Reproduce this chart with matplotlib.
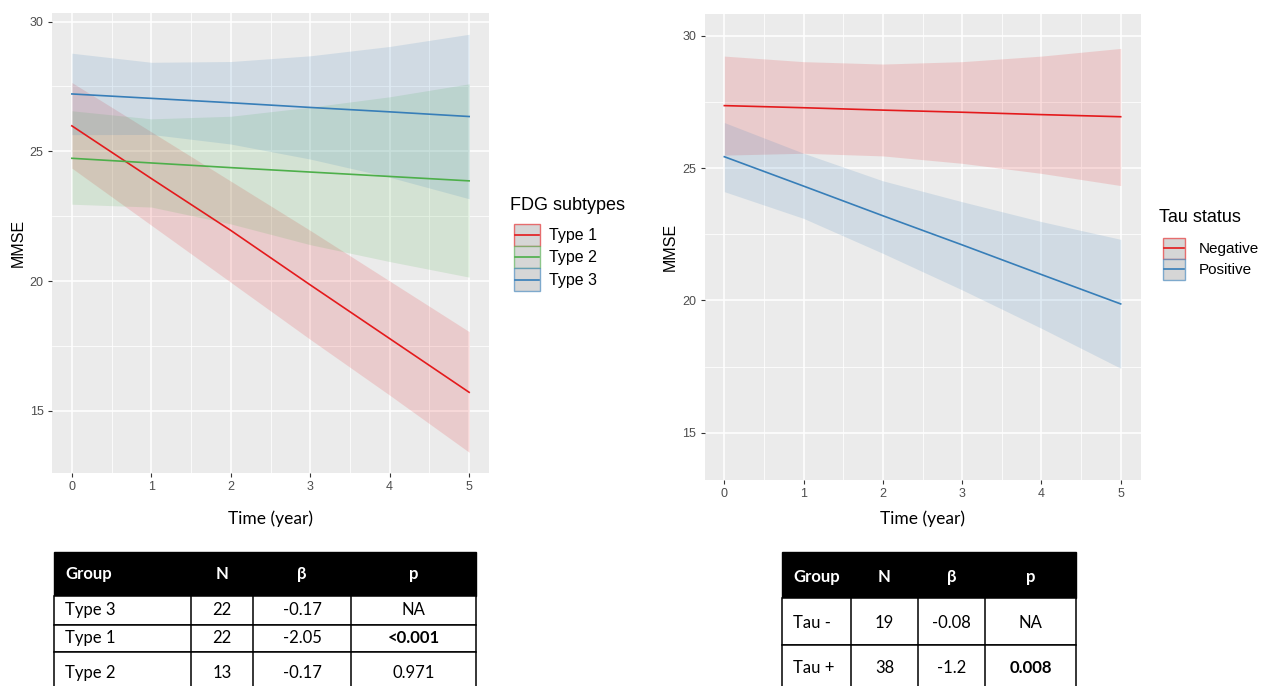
import matplotlib
matplotlib.use('Agg')
import matplotlib.pyplot as plt
from matplotlib.patches import Patch, Rectangle
from matplotlib.lines import Line2D
from matplotlib.colors import to_rgba

# ---- data ----
years = [0, 1, 2, 3, 4, 5]

# FDG subtypes (left panel)
type1_fit = [25.98, 23.95, 21.95, 19.85, 17.78, 15.71]
type1_lo = [24.35, 22.15, 19.95, 17.75, 15.60, 13.40]
type1_hi = [27.65, 25.75, 23.85, 21.95, 20.00, 18.05]
type2_fit = [24.73, 24.55, 24.37, 24.20, 24.03, 23.86]
type2_lo = [22.96, 22.85, 22.20, 21.40, 20.75, 20.15]
type2_hi = [26.56, 26.25, 26.35, 26.70, 27.10, 27.60]
type3_fit = [27.21, 27.04, 26.87, 26.69, 26.52, 26.34]
type3_lo = [25.64, 25.65, 25.28, 24.70, 24.00, 23.17]
type3_hi = [28.78, 28.43, 28.46, 28.68, 29.04, 29.51]

# Tau status (right panel)
neg_fit = [27.36, 27.28, 27.19, 27.11, 27.02, 26.94]
neg_lo = [25.49, 25.56, 25.46, 25.18, 24.80, 24.34]
neg_hi = [29.23, 29.02, 28.93, 29.02, 29.23, 29.52]
pos_fit = [25.43, 24.32, 23.20, 22.10, 20.98, 19.87]
pos_lo = [24.11, 23.10, 21.78, 20.40, 18.95, 17.44]
pos_hi = [26.72, 25.56, 24.52, 23.73, 22.98, 22.31]

subtype_names = ['Type 1', 'Type 2', 'Type 3']
tau_names = ['Negative', 'Positive']

# tables
fdg_header = ['Group', 'N', 'β', 'p']
fdg_group = ['Type 3', 'Type 1', 'Type 2']
fdg_n = ['22', '22', '13']
fdg_beta = ['-0.17', '-2.05', '-0.17']
fdg_p = ['NA', '<0.001', '0.971']
fdg_bold = [False, True, False]

tau_header = ['Group', 'N', 'β', 'p']
tau_group = ['Tau -', 'Tau +']
tau_n = ['19', '38']
tau_beta = ['-0.08', '-1.2']
tau_p = ['NA', '0.008']
tau_bold = [False, True]

RED, GREEN, BLUE = '#E41A1C', '#4DAF4A', '#377EB8'
W, H = 1266, 686

plt.rcParams['font.family'] = ['Liberation Sans', 'DejaVu Sans']

fig = plt.figure(figsize=(W / 100, H / 100), dpi=100)


def px_rect(l, t, r, b):
    return [l / W, 1 - b / H, (r - l) / W, (b - t) / H]


def gg_style(ax, ylim, xpad):
    ax.set_facecolor('#EBEBEB')
    for s in ax.spines.values():
        s.set_visible(False)
    ax.set_xlim(-0.25, 5.25)
    ax.set_ylim(*ylim)
    ax.set_xticks(years)
    ax.set_yticks([15, 20, 25, 30])
    ax.set_xticks([0.5, 1.5, 2.5, 3.5, 4.5], minor=True)
    ax.set_yticks([17.5, 22.5, 27.5], minor=True)
    ax.grid(which='major', color='white', lw=1.1)
    ax.grid(which='minor', color='white', lw=0.55)
    ax.set_axisbelow(True)
    ax.tick_params(which='major', length=3, width=0.8, color='#333333',
                   labelcolor='#4D4D4D', labelsize=9, pad=3)
    ax.tick_params(which='minor', length=0)
    ax.set_xlabel('Time (year)', family='Lato', fontsize=12.5, labelpad=xpad)
    ax.set_ylabel('MMSE', fontsize=11.5, labelpad=3)


class KeyHandler:
    """ggplot-like key: grey box with faded coloured border and a line across the middle"""
    def legend_artist(self, legend, orig_handle, fontsize, handlebox):
        x0, y0 = -handlebox.xdescent, -handlebox.ydescent
        w, h = handlebox.width, handlebox.height
        c = orig_handle.get_edgecolor()
        box = Rectangle((x0, y0), w, h, facecolor='#D6D6D6',
                        edgecolor=to_rgba(c, 0.6), lw=1.0,
                        transform=handlebox.get_transform())
        line = Line2D([x0 + 1, x0 + w - 1], [y0 + h / 2] * 2, color=c[:3], lw=1.2,
                      transform=handlebox.get_transform())
        handlebox.add_artist(box)
        handlebox.add_artist(line)
        return box


# ---- left panel ----
ax1 = fig.add_axes(px_rect(52, 13, 489, 473))
gg_style(ax1, (12.6, 30.33), 12)
for lo, hi, c in [(type1_lo, type1_hi, RED),
                  (type2_lo, type2_hi, GREEN),
                  (type3_lo, type3_hi, BLUE)]:
    ax1.fill_between(years, lo, hi, color=c, alpha=0.15, lw=0)
for fit, c in [(type1_fit, RED), (type2_fit, GREEN), (type3_fit, BLUE)]:
    ax1.plot(years, fit, color=c, lw=1.2)

fig.text(510.5 / W, 1 - 205 / H, 'FDG subtypes', fontsize=13, ha='left', va='center')
fig.legend([Patch(edgecolor=c) for c in [RED, GREEN, BLUE]], subtype_names,
           handler_map={Patch: KeyHandler()},
           loc='upper left', bbox_to_anchor=(514 / W, 1 - 223.5 / H),
           frameon=False, fontsize=11.5, handlelength=1.63,
           handleheight=1.79, labelspacing=0.0, handletextpad=0.56,
           borderpad=0, borderaxespad=0)

# ---- right panel ----
ax2 = fig.add_axes(px_rect(704.5, 14, 1140.5, 480))
gg_style(ax2, (13.22, 30.82), 7)
for lo, hi, c in [(neg_lo, neg_hi, RED), (pos_lo, pos_hi, BLUE)]:
    ax2.fill_between(years, lo, hi, color=c, alpha=0.15, lw=0)
ax2.plot(years, neg_fit, color=RED, lw=1.2)
ax2.plot(years, pos_fit, color=BLUE, lw=1.2)

fig.text(1159 / W, 1 - 217 / H, 'Tau status', fontsize=13, ha='left', va='center')
fig.legend([Patch(edgecolor=c) for c in [RED, BLUE]], tau_names,
           handler_map={Patch: KeyHandler()},
           loc='upper left', bbox_to_anchor=(1163 / W, 1 - 237.5 / H),
           frameon=False, fontsize=11, handlelength=1.44,
           handleheight=1.74, labelspacing=0.0, handletextpad=0.92,
           borderpad=0, borderaxespad=0)

# ---- tables (drawn in pixel coordinates on an overlay axes) ----
tab = fig.add_axes([0, 0, 1, 1])
tab.set_xlim(0, W)
tab.set_ylim(H, 0)
tab.axis('off')


def draw_table(cols, rows, header, columns, bold, text_y, head_y, group_x):
    # cols: x edges, rows: y edges (first pair = header)
    tab.add_patch(Rectangle((cols[0], rows[0]), cols[-1] - cols[0], rows[1] - rows[0],
                            facecolor='black', edgecolor='black', lw=1))
    for i in range(1, len(rows) - 1):
        tab.add_patch(Rectangle((cols[0], rows[i]), cols[-1] - cols[0], rows[i + 1] - rows[i],
                                facecolor='white', edgecolor='black', lw=1.1))
    for x in cols[1:-1]:
        tab.plot([x, x], [rows[1], rows[-1]], color='black', lw=1.1)
    centers = [(cols[j] + cols[j + 1]) / 2 for j in range(len(cols) - 1)]
    for j, h in enumerate(header):
        tx = group_x if j == 0 else centers[j]
        tab.text(tx, head_y, h, color='white', fontweight='bold', family='Lato',
                 fontsize=12, ha='left' if j == 0 else 'center', va='center')
    for i in range(len(columns[0])):
        for j, col in enumerate(columns):
            tx = group_x if j == 0 else centers[j]
            fw = 'bold' if (j == 3 and bold[i]) else 'normal'
            tab.text(tx, text_y[i], col[i], color='black', fontweight=fw, family='Lato',
                     fontsize=12, ha='left' if j == 0 else 'center', va='center')


draw_table([54, 191, 253, 351, 476], [552, 596, 625, 652, 694],
           fdg_header, [fdg_group, fdg_n, fdg_beta, fdg_p], fdg_bold,
           [610, 638, 673], 574, 65)
draw_table([782, 851, 918, 985, 1076], [552, 598, 645, 692],
           tau_header, [tau_group, tau_n, tau_beta, tau_p], tau_bold,
           [623, 668], 577, 793)

fig.savefig('out.png', dpi=100)
